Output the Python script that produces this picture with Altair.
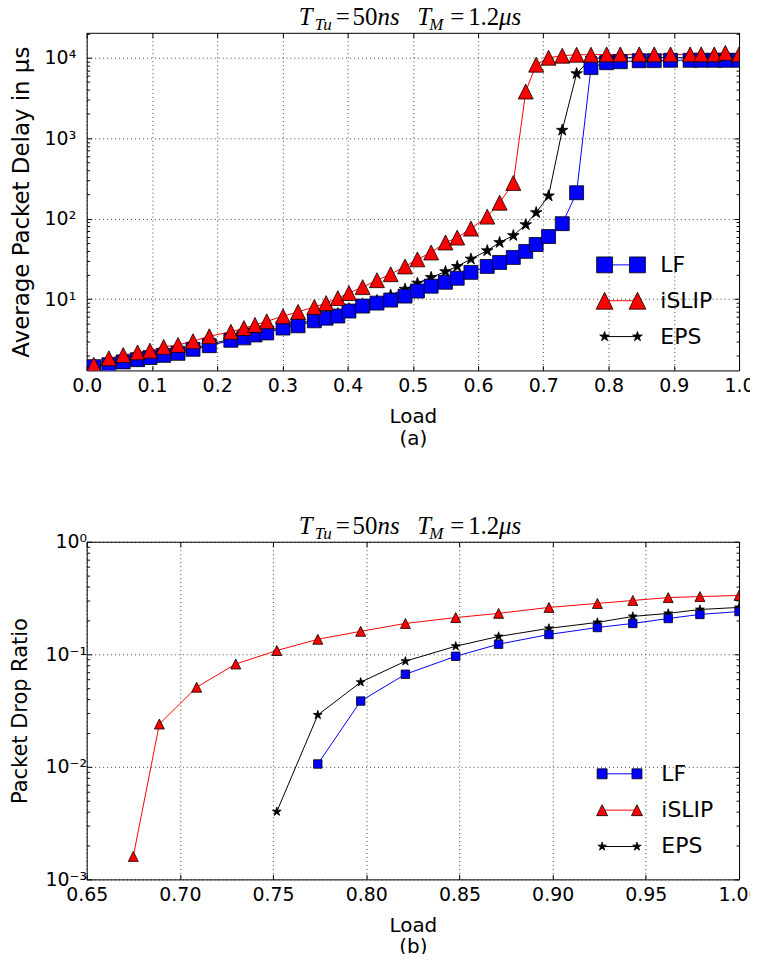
import math
import altair as alt
import pandas as pd

SERIES = ["LF", "iSLIP", "EPS"]
COLORS = ["#0000ff", "#ff0000", "#000000"]

# ---------------- panel (a): average packet delay ----------------
LOAD_A = [0.011, 0.034, 0.056, 0.078, 0.097, 0.118, 0.140, 0.163, 0.188, 0.221,
          0.241, 0.258, 0.276, 0.301, 0.324, 0.349, 0.367, 0.385, 0.402, 0.423,
          0.445, 0.466, 0.488, 0.507, 0.528, 0.550, 0.568, 0.589, 0.614, 0.633,
          0.654, 0.673, 0.689, 0.708, 0.729, 0.751, 0.773, 0.797, 0.818, 0.847,
          0.870, 0.895, 0.925, 0.942, 0.962, 0.979, 1.0]
LF_A = [1.45, 1.53, 1.66, 1.77, 1.88, 2.0, 2.12, 2.38, 2.64, 3.08,
        3.30, 3.59, 3.80, 4.37, 4.66, 5.38, 5.8, 6.17, 7.11, 8.2,
        8.93, 9.72, 10.9, 12.6, 14.5, 16.2, 18.2, 21.5, 25.5, 28.6,
        33.0, 39.2, 47.8, 60, 86.7, 210, 7530, 8670, 8920, 9180,
        9200, 9300, 9300, 9300, 9300, 9300, 9300]
ISLIP_A = [1.53, 1.84, 2.02, 2.18, 2.29, 2.55, 2.70, 3.0, 3.46, 3.93,
           4.37, 4.78, 5.3, 6.13, 6.95, 8.0, 8.93, 10.3, 11.9, 14.1,
           17.2, 20.4, 25.5, 31.2, 38.0, 50.6, 58.2, 75.3, 106, 158,
           278, 3800, 8200, 10000, 10600, 10900, 10900, 11000, 11000, 11000,
           11000, 11000, 11000, 11000, 11000, 11500, 11000]
EPS_A = [1.5, 1.6, 1.72, 1.83, 1.95, 2.08, 2.2, 2.47, 2.74, 3.18,
         3.42, 3.72, 3.95, 4.55, 4.86, 5.6, 6.1, 6.6, 7.6, 8.7,
         9.6, 11.2, 13.3, 15.8, 18.6, 22.0, 25.5, 31.5, 40.0, 50.6,
         61.7, 84.3, 119, 192, 1256, 6340, 9800, 10000, 10000, 10000,
         10000, 10000, 10000, 10000, 10000, 10000, 10000]

# ---------------- panel (b): packet drop ratio ----------------
LOAD_B_ISLIP = [0.675, 0.689, 0.709, 0.730, 0.752, 0.774, 0.797, 0.821,
                0.848, 0.871, 0.898, 0.924, 0.943, 0.962, 0.979, 1.0]
ISLIP_B = [0.0016, 0.024, 0.051, 0.082, 0.108, 0.136, 0.160, 0.188,
           0.212, 0.231, 0.261, 0.283, 0.301, 0.319, 0.326, 0.333]
LOAD_B_EPS = [0.752, 0.774, 0.797, 0.821, 0.848, 0.871, 0.898, 0.924,
              0.943, 0.962, 0.979, 1.0]
EPS_B = [0.0040, 0.0289, 0.0565, 0.0868, 0.118, 0.144, 0.170, 0.192,
         0.217, 0.231, 0.250, 0.261]
LOAD_B_LF = [0.774, 0.797, 0.821, 0.848, 0.871, 0.898, 0.924, 0.943,
             0.962, 0.979, 1.0]
LF_B = [0.0106, 0.0384, 0.0665, 0.096, 0.123, 0.150, 0.173, 0.188,
        0.208, 0.226, 0.240]

X_TICKS_A = [0.0, 0.1, 0.2, 0.3, 0.4, 0.5, 0.6, 0.7, 0.8, 0.9, 1.0]
X_TICKS_B = [0.65, 0.70, 0.75, 0.80, 0.85, 0.90, 0.95, 1.00]
Y_MAJOR_A = [10, 100, 1000, 10000]
Y_LABELS_A = ["10¹", "10²", "10³", "10⁴"]
Y_MAJOR_B = [0.001, 0.01, 0.1, 1]
Y_LABELS_B = ["10⁻³", "10⁻²", "10⁻¹", "10⁰"]


def make_df(parts):
    rows = []
    for name, loads, vals in parts:
        for l, v in zip(loads, vals):
            rows.append({"series": name, "load": l, "value": v})
    return pd.DataFrame(rows)


df_a = make_df([("LF", LOAD_A, LF_A), ("iSLIP", LOAD_A, ISLIP_A), ("EPS", LOAD_A, EPS_A)])
df_b = make_df([("LF", LOAD_B_LF, LF_B), ("iSLIP", LOAD_B_ISLIP, ISLIP_B), ("EPS", LOAD_B_EPS, EPS_B)])


# ---------------- marker shapes (matplotlib-like) ----------------
def sq(cx=0.0, h=1.0):
    return f"M{cx-h:.3f},{-h:.3f}H{cx+h:.3f}V{h:.3f}H{cx-h:.3f}Z"


def tri(cx=0.0, h=1.0):
    return f"M{cx:.3f},{-h:.3f}L{cx-h:.3f},{h:.3f}L{cx+h:.3f},{h:.3f}Z"


def star(cx=0.0, r=1.0):
    pts = []
    for i in range(10):
        a = math.radians(90 + 36 * i)
        rr = r if i % 2 == 0 else r * 0.381966
        pts.append(f"{cx + rr*math.cos(a):.3f},{-rr*math.sin(a):.3f}")
    return "M" + "L".join(pts) + "Z"


MARK = {"LF": sq(), "iSLIP": tri(), "EPS": star()}
COLOR = dict(zip(SERIES, COLORS))

FONT = "DejaVu Sans"
SERIF = "Liberation Serif"


def log_minor(lo, hi):
    out = []
    for e in range(-4, 6):
        for k in range(2, 10):
            v = k * 10 ** e
            if lo <= v <= hi:
                out.append(v)
    return out


def title_layers():
    tdf = pd.DataFrame({"k": [0]})
    pieces = [
        ("T", 213, -8, 25, "italic"),
        ("Tu", 229, -3, 17, "italic"),
        ("=", 250, -8, 25, "normal"),
        ("50", 267, -8, 25, "normal"),
        ("ns", 292, -8, 25, "italic"),
        ("T", 332, -8, 25, "italic"),
        ("M", 344, -3, 17, "italic"),
        ("=", 365, -8, 25, "normal"),
        ("1.2", 383, -8, 25, "normal"),
        ("μs", 414, -8, 25, "italic"),
    ]
    out = []
    for t, x, y, fs, st in pieces:
        out.append(alt.Chart(tdf).mark_text(text=t, font=SERIF, fontStyle=st, fontSize=fs,
                                             align="left", baseline="alphabetic", color="#000")
                   .encode(x=alt.value(x), y=alt.value(y)))
    return out


def build_panel(df, c):
    xscale = alt.Scale(domain=c["xdom"], nice=False, zero=False)
    yscale = alt.Scale(type="log", domain=c["ydom"], nice=False)
    grid = dict(grid=True, gridDash=[1, 3], gridColor="#000", gridOpacity=0.75, gridWidth=1)
    xaxis = alt.Axis(values=c["xticks"], format=c["xfmt"], title=c["xtitle"], labelFlush=False,
                     labelOverlap=False, domain=False, tickSize=5, offset=-5, labelPadding=6,
                     titlePadding=c["xtitlepad"], titleLineHeight=c["xlineh"], labelFontSize=19,
                     titleFontSize=20, **grid)
    yaxis = alt.Axis(values=c["ymajor"], labelExpr=c["ylabexpr"], title=c["ytitle"], labelFlush=False,
                     labelOverlap=False, domain=False, tickSize=5, offset=-5,
                     labelPadding=c["ylabpad"], titlePadding=c["ytitlepad"],
                     labelFontSize=19, titleFontSize=c["ytitlesize"], **grid)
    X = alt.X("load:Q", scale=xscale, axis=xaxis)
    Y = alt.Y("value:Q", scale=yscale, axis=yaxis)
    base = alt.Chart(df)

    common_leg = dict(orient="none", legendX=c["legx"], legendY=c["legy"], title=None,
                      symbolSize=484, labelFontSize=22, labelFont=FONT, labelColor="#000",
                      labelOffset=c["laboff"], rowPadding=c["rowpad"], padding=0, labelLimit=300)
    line_legend = alt.Legend(symbolType=c["linepath"], symbolStrokeWidth=1, labelOpacity=0, **common_leg)
    mark_legend = alt.Legend(symbolStrokeWidth=0.8, symbolOpacity=1, **common_leg)

    lines = base.mark_line(strokeWidth=1, clip=True).encode(
        x=X, y=Y,
        stroke=alt.Stroke("series:N", sort=SERIES, scale=alt.Scale(range=COLORS), legend=line_legend))

    pts = []
    for name in ["EPS", "LF", "iSLIP"]:
        pts.append(base.transform_filter(alt.datum.series == name)
                   .mark_point(shape=MARK[name], filled=True, fill=COLOR[name], stroke="#000",
                               strokeWidth=0.8, opacity=1, size=c["msize"][name], clip=True)
                   .encode(x=X, y=Y))

    proxy = base.transform_filter("false").mark_point(filled=True, stroke="#000", strokeWidth=0.8,
                                                      opacity=1).encode(
        fill=alt.Fill("series:N", scale=alt.Scale(domain=SERIES, range=COLORS), legend=mark_legend),
        shape=alt.Shape("series:N", scale=alt.Scale(domain=SERIES, range=c["legpaths"]), legend=mark_legend))

    main = alt.layer(lines, *pts, proxy, *title_layers())

    empty = base.transform_filter("false")
    tick = dict(labels=False, title=None, grid=False, domain=False)
    top_right = empty.mark_point().encode(
        x=alt.X("load:Q", scale=xscale, axis=alt.Axis(orient="top", values=c["xticks"], tickSize=5, offset=-5, **tick)),
        y=alt.Y("value:Q", scale=yscale, axis=alt.Axis(orient="right", values=c["ymajor"], tickSize=5, offset=-5, **tick)))
    minor = log_minor(c["ydom"][0], c["ydom"][1])
    left_minor = empty.mark_point().encode(
        x=alt.X("load:Q", scale=xscale, axis=None),
        y=alt.Y("value:Q", scale=yscale, axis=alt.Axis(orient="left", values=minor, tickSize=3, offset=-3, **tick)))
    right_minor = empty.mark_point().encode(
        x=alt.X("load:Q", scale=xscale, axis=None),
        y=alt.Y("value:Q", scale=yscale, axis=alt.Axis(orient="right", values=minor, tickSize=3, offset=-3, **tick)))

    return (alt.layer(main, top_right, left_minor, right_minor)
            .resolve_scale(x="independent", y="independent")
            .properties(width=655, height=339))


cfg_a = dict(
    xdom=[0.0, 1.0], ydom=[1.3, 20400], xticks=X_TICKS_A, xfmt=".1f", xtitle=["Load", "(a)"],
    xtitlepad=11, xlineh=22,
    ymajor=Y_MAJOR_A,
    ylabexpr="[" + ",".join(f"'{s}'" for s in Y_LABELS_A) + "][round(log(datum.value)/LN10)-1]",
    ytitle="Average Packet Delay in μs", ylabpad=11, ytitlepad=11, ytitlesize=23,
    msize={"LF": 196, "iSLIP": 225, "EPS": 150},
    legx=525, legy=221.5, laboff=28, rowpad=13,
    linepath="M-1.5,0H1.5",
    legpaths=[sq(-1.5, 0.727) + sq(1.5, 0.727), tri(-1.5, 0.77) + tri(1.5, 0.77), star(-1.5, 0.47) + star(1.5, 0.47)],
)
cfg_b = dict(
    xdom=[0.65, 1.0], ydom=[0.001, 1.0], xticks=X_TICKS_B, xfmt=".2f", xtitle=["Load", "(b)"],
    xtitlepad=11, xlineh=21,
    ymajor=Y_MAJOR_B,
    ylabexpr="[" + ",".join(f"'{s}'" for s in Y_LABELS_B) + "][round(log(datum.value)/LN10)+3]",
    ytitle="Packet Drop Ratio", ylabpad=0, ytitlepad=15, ytitlesize=21,
    msize={"LF": 72, "iSLIP": 100, "EPS": 88},
    legx=523.5, legy=221.5, laboff=30.5, rowpad=13.5,
    linepath="M-1.59,0H1.59",
    legpaths=[sq(-1.59, 0.4545) + sq(1.59, 0.4545), tri(-1.59, 0.5) + tri(1.59, 0.5), star(-1.59, 0.41) + star(1.59, 0.41)],
)

panel_a = build_panel(df_a, cfg_a)
panel_b = build_panel(df_b, cfg_b)

chart = (alt.vconcat(panel_a, panel_b, spacing=64)
         .resolve_scale(stroke="independent", fill="independent", shape="independent")
         .resolve_legend(stroke="independent", fill="independent", shape="independent")
         .properties(padding={"left": 0, "top": -6, "right": -11, "bottom": -5}, background="white")
         .configure_view(stroke="#000", strokeWidth=1)
         .configure_axis(labelFont=FONT, titleFont=FONT, labelColor="#000", titleColor="#000",
                         tickColor="#000", tickWidth=1, titleFontWeight="normal")
         .configure_legend(labelFont=FONT, labelColor="#000"))

chart.save("out.html", embed_options={"renderer": "svg", "actions": False})
